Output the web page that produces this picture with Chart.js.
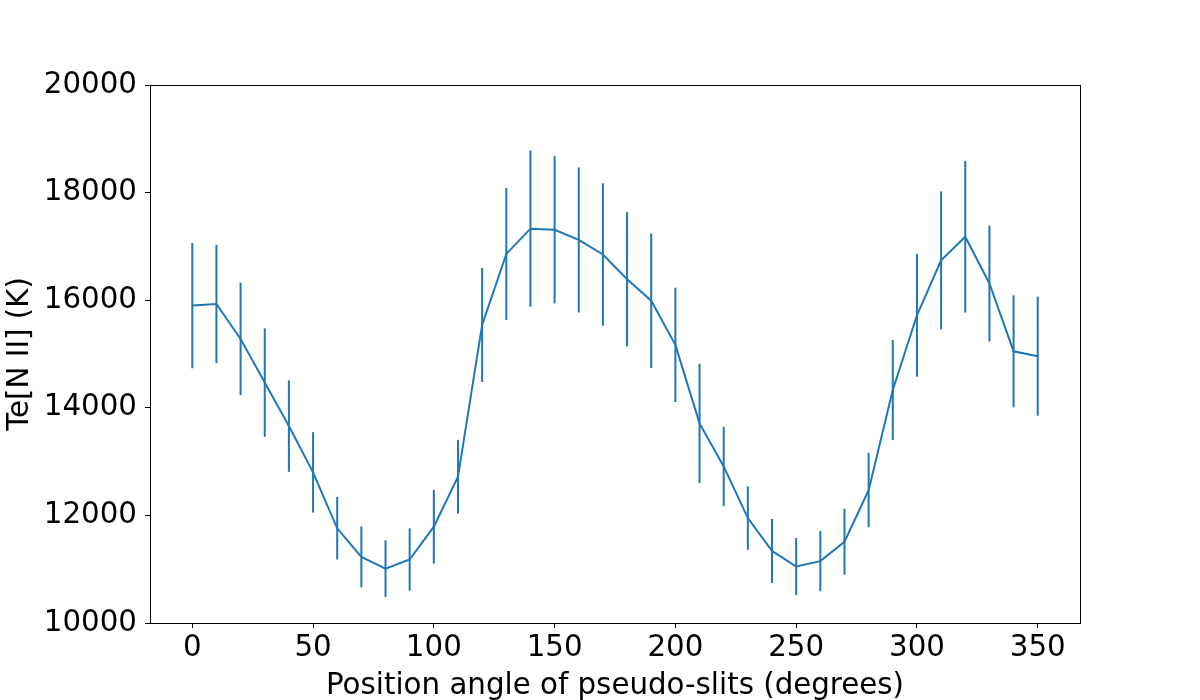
<!DOCTYPE html>
<html>
<head>
<meta charset="utf-8">
<script src="https://cdn.jsdelivr.net/npm/chart.js@4"></script>
<style>
  body { margin: 0; background: #fff; }
  canvas { display: block; }
</style>
</head>
<body>
<canvas id="chart" width="1200" height="700"></canvas>
<script>
// position angles of the pseudo-slits (degrees)
const angles = [0, 10, 20, 30, 40, 50, 60, 70, 80, 90, 100, 110, 120, 130, 140, 150, 160, 170,
  180, 190, 200, 210, 220, 230, 240, 250, 260, 270, 280, 290, 300, 310, 320, 330, 340, 350];
// Te[N II] in K
const teValues = [15900, 15930, 15280, 14470, 13660, 12800, 11760, 11230, 11010, 11180, 11790, 12720,
  15540, 16860, 17330, 17310, 17120, 16850, 16390, 15990, 15170, 13710, 12910, 11950,
  11340, 11050, 11150, 11510, 12470, 14330, 15720, 16740, 17180, 16310, 15050, 14960];
// symmetric errors
const teErrors = [1165, 1100, 1045, 1007, 850, 747, 580, 565, 527, 580, 685, 685,
  1060, 1227, 1453, 1369, 1348, 1323, 1250, 1250, 1063, 1109, 737, 590,
  595, 530, 560, 613, 690, 930, 1143, 1283, 1410, 1078, 1041, 1106];
const xTicks = [0, 50, 100, 150, 200, 250, 300, 350];
const yTicks = [10000, 12000, 14000, 16000, 18000, 20000];

const blue = "#1f77b4";
Chart.defaults.font.family = "'DejaVu Sans', sans-serif";
Chart.defaults.color = "#000";

// vertical error bars
const errorBars = {
  id: "errorBars",
  afterDatasetsDraw(chart) {
    const xs = chart.scales.x, ys = chart.scales.y, c = chart.ctx;
    c.save();
    c.strokeStyle = blue;
    c.lineWidth = 2;
    for (let i = 0; i < angles.length; i++) {
      const px = xs.getPixelForValue(angles[i]);
      c.beginPath();
      c.moveTo(px, ys.getPixelForValue(teValues[i] - teErrors[i]));
      c.lineTo(px, ys.getPixelForValue(teValues[i] + teErrors[i]));
      c.stroke();
    }
    c.restore();
  }
};

// box round the axes (top and right spines)
const frame = {
  id: "frame",
  afterDraw(chart) {
    const a = chart.chartArea, c = chart.ctx;
    c.save();
    c.strokeStyle = "#000";
    c.lineWidth = 1;
    c.strokeRect(Math.round(a.left) + 0.5, Math.round(a.top) + 0.5,
      Math.round(a.right - a.left), Math.round(a.bottom - a.top));
    c.restore();
  }
};

const tickFont = { size: 29.3 };

new Chart(document.getElementById("chart"), {
  type: "line",
  plugins: [errorBars, frame],
  data: {
    datasets: [
      {
        data: angles.map((a, i) => ({ x: a, y: teValues[i] })),
        borderColor: blue,
        borderWidth: 2,
        pointRadius: 0,
        tension: 0,
        fill: false,
      },
    ],
  },
  options: {
    responsive: false,
    animation: false,
    layout: {
      padding: { top: 85, right: 120, left: 0, bottom: 0 },
    },
    plugins: {
      legend: { display: false },
      tooltip: { enabled: false },
    },
    scales: {
      x: {
        type: "linear",
        min: -17.5,
        max: 367.5,
        afterBuildTicks: (scale) => {
          scale.ticks = xTicks.map((v) => ({ value: v }));
        },
        afterFit: (scale) => {
          scale.height = 77;
        },
        grid: {
          drawOnChartArea: false,
          drawTicks: true,
          tickLength: 5,
          tickColor: "#000",
        },
        border: { display: true, color: "#000", width: 1 },
        ticks: { font: tickFont, color: "#000", padding: 3, maxRotation: 0 },
        title: {
          display: true,
          text: "Position angle of pseudo-slits (degrees)",
          font: { size: 29.3, lineHeight: 1 },
          color: "#000",
          padding: { top: 0, bottom: -1 },
        },
      },
      y: {
        min: 10000,
        max: 20000,
        afterBuildTicks: (scale) => {
          scale.ticks = yTicks.map((v) => ({ value: v }));
        },
        afterFit: (scale) => {
          scale.width = 150;
        },
        grid: {
          drawOnChartArea: false,
          drawTicks: true,
          tickLength: 5,
          tickColor: "#000",
        },
        border: { display: true, color: "#000", width: 1 },
        ticks: {
          font: tickFont,
          color: "#000",
          padding: 8,
          callback: (v) => String(v),
        },
        title: {
          display: true,
          text: "Te[N II] (K)",
          font: { size: 29.3, lineHeight: 1 },
          color: "#000",
          padding: { top: 6, bottom: 0 },
        },
      },
    },
  },
});
</script>
</body>
</html>
